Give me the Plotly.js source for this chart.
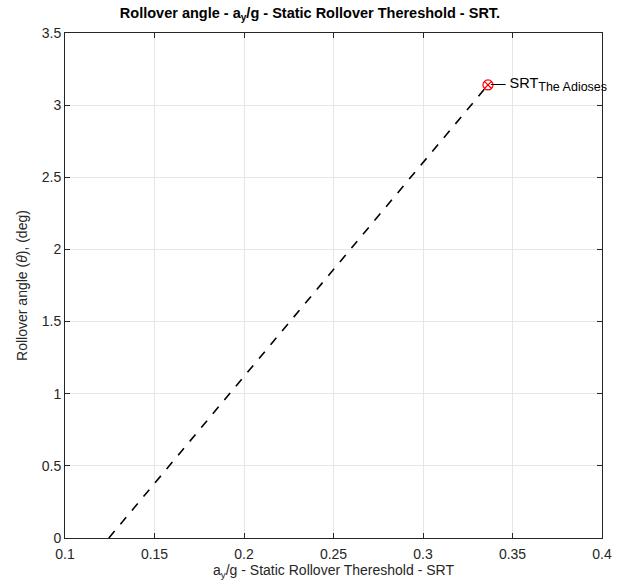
<!DOCTYPE html>
<html><head><meta charset="utf-8">
<script src="https://cdn.plot.ly/plotly-3.0.1.min.js"></script>
<style>body{margin:0;background:#fff}#c{width:620px;height:585px}</style>
</head><body><div id="c"></div>
<script>
const lineX = [0.1245, 0.3363];
const lineY = [0, 3.14];
const srtX = [0.3363];
const srtY = [3.14];
const xTicks = [0.1, 0.15, 0.2, 0.25, 0.3, 0.35, 0.4];
const yTicks = [0, 0.5, 1, 1.5, 2, 2.5, 3, 3.5];
const srtLabel = '— SRT<sub><span style="font-size:12.5px">The Adioses</span></sub>';

const font = 'Liberation Sans, Arial, sans-serif';
const axisCommon = {
  showline: true, mirror: 'ticks', linecolor: '#262626', linewidth: 1,
  ticks: 'inside', ticklen: 5, tickcolor: '#262626',
  showgrid: true, gridcolor: '#e6e6e6', gridwidth: 1, zeroline: false,
  tickfont: {family: font, size: 14, color: '#262626'}
};
const traces = [
  {x: lineX, y: lineY, mode: 'lines', line: {color: '#000', width: 1.6, dash: 'dash'}, hoverinfo: 'none'},
  {x: srtX, y: srtY, mode: 'markers', marker: {symbol: 'circle-x-open', color: '#ff0000', size: 10, line: {width: 1.2}}, hoverinfo: 'none'}
];
const layout = {
  width: 620, height: 585,
  margin: {l: 65, r: 18, t: 33, b: 47},
  paper_bgcolor: '#fff', plot_bgcolor: '#fff',
  showlegend: false,
  title: {text: '<b>Rollover angle - a<sub>y</sub>/g - Static Rollover Thereshold - SRT.</b>', font: {family: font, size: 14.5, color: '#000'}, x: 0.5, xanchor: 'center', y: 0.978, yanchor: 'middle'},
  xaxis: Object.assign({}, axisCommon, {range: [0.1, 0.4], tickvals: xTicks, ticktext: xTicks.map(String), ticklabelstandoff: 3,
    title: {text: 'a<sub>y</sub>/g - Static Rollover Thereshold - SRT', font: {family: font, size: 14, color: '#262626'}, standoff: 4}}),
  yaxis: Object.assign({}, axisCommon, {range: [0, 3.5], tickvals: yTicks, ticktext: yTicks.map(String),
    title: {text: 'Rollover angle (<i>θ</i>), (deg)', font: {family: font, size: 14, color: '#262626'}, standoff: 10}}),
  annotations: [{x: srtX[0], y: srtY[0], xref: 'x', yref: 'y', text: srtLabel, showarrow: false, xanchor: 'left', yanchor: 'middle', xshift: 1, yshift: 0, font: {family: font, size: 14.5, color: '#000'}}]
};
Plotly.newPlot('c', traces, layout, {displayModeBar: false, staticPlot: true});
</script></body></html>
